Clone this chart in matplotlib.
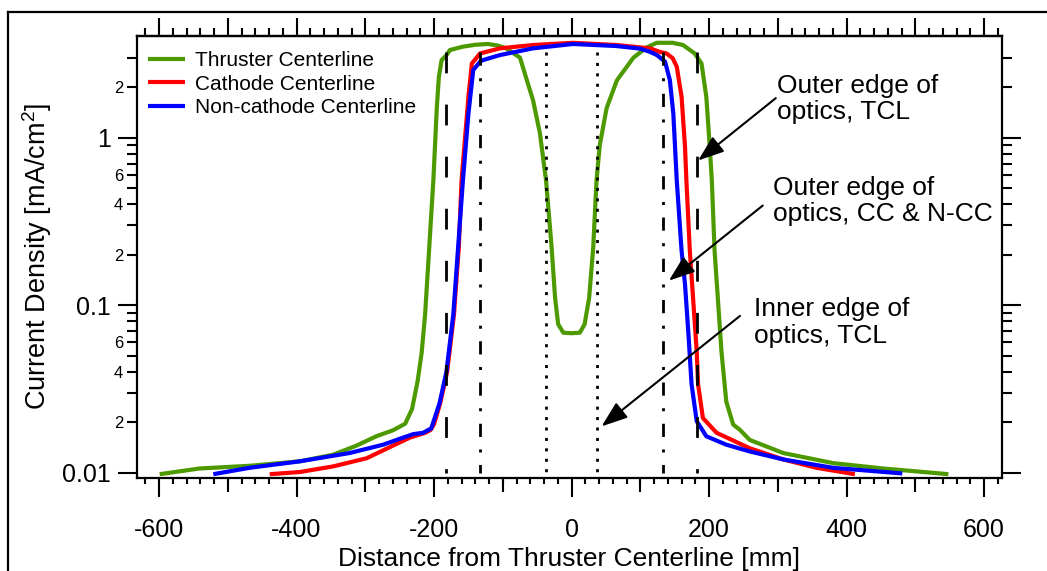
import matplotlib
matplotlib.use('Agg')
import matplotlib.pyplot as plt
from matplotlib.ticker import MultipleLocator, FixedLocator, FuncFormatter, NullLocator
from matplotlib.lines import Line2D

plt.rcParams['font.family'] = ['Liberation Sans', 'DejaVu Sans']
plt.rcParams['mathtext.fontset'] = 'custom'
plt.rcParams['mathtext.rm'] = 'Liberation Sans'
plt.rcParams['axes.unicode_minus'] = False
plt.rcParams['lines.scale_dashes'] = False

# ---- data ----
# distance [mm], current density [mA/cm^2]
tcl_x = [-599, -541, -468, -395, -347, -313, -284, -260, -242, -232, -224, -218, -213,
         -207, -201, -196, -193, -189, -182, -177, -158, -140, -122, -108, -95, -90,
         -75, -65, -56, -46, -37, -29, -24, -19.5, -12, 0, 12, 19, 25.6, 31.5, 36.3,
         41, 51, 66, 90, 109, 124, 147, 162, 179, 189, 196, 201, 204, 208, 213, 218,
         225, 235, 245, 259, 308, 381, 453, 548]
tcl_y = [0.0098, 0.0106, 0.0110, 0.0117, 0.0128, 0.0145, 0.0165, 0.0179, 0.0196, 0.0240,
         0.0350, 0.052, 0.088, 0.221, 0.555, 1.50, 2.3, 2.9, 3.1, 3.33, 3.49, 3.58, 3.62,
         3.55, 3.41, 3.3, 3.0, 2.2, 1.67, 1.06, 0.55, 0.221, 0.111, 0.077, 0.0685, 0.068,
         0.0685, 0.077, 0.111, 0.221, 0.555, 0.9, 1.5, 2.2, 3.0, 3.45, 3.68, 3.68, 3.57,
         3.18, 2.77, 1.75, 0.88, 0.555, 0.211, 0.106, 0.053, 0.0266, 0.0194, 0.0180,
         0.0157, 0.0131, 0.0114, 0.0106, 0.0098]

cc_x = [-439, -395, -347, -298, -260, -235, -213, -205, -200, -191, -181, -171, -164,
        -160, -150, -145, -133, -104, -56, 2, 65, 114, 128, 138, 147, 153, 160, 165,
        167, 172, 177, 182, 184, 191, 211, 259, 308, 356, 412]
cc_y = [0.0098, 0.0101, 0.0109, 0.0122, 0.0145, 0.0162, 0.0173, 0.0180, 0.0195, 0.026,
        0.040, 0.088, 0.221, 0.555, 1.75, 2.77, 3.18, 3.41, 3.57, 3.68, 3.57, 3.41,
        3.25, 3.18, 2.98, 2.65, 1.75, 0.88, 0.555, 0.211, 0.106, 0.053, 0.0338, 0.0212,
        0.0173, 0.0140, 0.0120, 0.0107, 0.0098]

ncc_x = [-521, -468, -395, -323, -274, -245, -230, -216, -204, -192, -182, -172, -165,
         -158, -150, -143, -133, -129, -104, -56, 2, 65, 99, 114, 124, 136, 143, 148,
         153, 160, 165, 170, 174.5, 182, 196, 225, 259, 308, 380, 481]
ncc_y = [0.0098, 0.0107, 0.0117, 0.0131, 0.0147, 0.0162, 0.0170, 0.0173, 0.0184, 0.026,
         0.040, 0.088, 0.221, 0.555, 1.39, 2.53, 2.84, 2.9, 3.11, 3.41, 3.62, 3.52, 3.4,
         3.25, 3.11, 2.84, 2.2, 1.39, 0.555, 0.211, 0.133, 0.067, 0.0338, 0.0203, 0.0165,
         0.0147, 0.0134, 0.0120, 0.0107, 0.0099]

series = [
    ('Thruster Centerline', tcl_x, tcl_y, '#4d9a00'),
    ('Cathode Centerline', cc_x, cc_y, '#ff0000'),
    ('Non-cathode Centerline', ncc_x, ncc_y, '#0000ff'),
]

# optics edges (vertical guide lines)
outer_tcl = [-182, 182]
outer_cc = [-133, 133]
inner_tcl = [-37, 37]
guide_span = [3.25, 0.01]

# text, (x, baseline of last line), arrow tail, arrow tip
notes = [
    ('Outer edge of\noptics, TCL', (299, 1.287), (297, 1.72), (184, 0.73)),
    ('Outer edge of\noptics, CC & N-CC', (293, 0.3167), (278, 0.393), (141.5, 0.14)),
    ('Inner edge of\noptics, TCL', (265, 0.0597), (245, 0.0863), (43.6, 0.0189)),
]

fig = plt.figure(figsize=(10.47, 5.71), dpi=100)
ax = fig.add_axes([137 / 1047, 1 - 478 / 571, 865 / 1047, 442 / 571])

for name, xs, ys, c in series:
    ax.plot(xs, ys, color=c, lw=3.0, label=name, solid_capstyle='butt', zorder=2)

for x in outer_tcl:
    ax.plot([x, x], guide_span, color='black', lw=2.0, dashes=(15, 22.5),
            dash_capstyle='butt', zorder=3)
for x in outer_cc:
    ax.plot([x, x], guide_span, color='black', lw=2.0, dashes=(9.5, 9, 2.2, 9),
            dash_capstyle='butt', zorder=3)
for x in inner_tcl:
    ax.plot([x, x], guide_span, color='black', lw=2.0, dashes=(2.2, 5.3),
            dash_capstyle='butt', zorder=3)

ax.set_yscale('log')
ax.set_xlim(-632, 626)
ax.set_ylim(0.0093, 4.04)

# y ticks
ax.set_yticks([0.01, 0.1, 1])
ax.set_yticklabels(['0.01', '0.1', '1'])
minor_y = [m * 10.0 ** e for e in (-2, -1) for m in range(2, 10)] + [2, 3]
ax.yaxis.set_minor_locator(FixedLocator(minor_y))


def minor_label(v, pos):
    d = v
    while d < 1:
        d *= 10
    d = round(d)
    return str(d) if d in (2, 4, 6) else ''


ax.yaxis.set_minor_formatter(FuncFormatter(minor_label))
ax.tick_params(axis='y', which='major', direction='out', length=14, width=1.5,
               labelsize=18, pad=5, left=True, right=True)
ax.tick_params(axis='y', which='minor', direction='out', length=7, width=1.5,
               labelsize=12, pad=3, left=True, right=True)

# x ticks (bottom)
ax.set_xticks(range(-600, 601, 200))
ax.xaxis.set_minor_locator(MultipleLocator(20))
ax.tick_params(axis='x', which='major', direction='out', length=13.7, width=1.5,
               labelsize=18, pad=15, top=False)
ax.tick_params(axis='x', which='minor', direction='out', length=4.5, width=1.5, top=False)

mid = ax.secondary_xaxis('bottom')
mid.set_xticks([-500, -300, -100, 100, 300, 500])
mid.xaxis.set_minor_locator(NullLocator())
mid.tick_params(axis='x', which='major', direction='out', length=10, width=1.5,
                labelbottom=False)
mid.spines['bottom'].set_visible(False)

top = ax.secondary_xaxis('top')
top.set_xticks(range(-600, 601, 100))
top.xaxis.set_minor_locator(MultipleLocator(20))
top.tick_params(axis='x', which='major', direction='out', length=13, width=1.5,
                labeltop=False)
top.tick_params(axis='x', which='minor', direction='out', length=5.8, width=1.5)
top.spines['top'].set_linewidth(1.6)

for s in ax.spines.values():
    s.set_linewidth(1.6)

ax.set_xlabel('Distance from Thruster Centerline [mm]', fontsize=19)
ax.xaxis.set_label_coords(0.5, -0.155)
ax.set_ylabel('Current Density [mA/cm$\\mathregular{^2}$]', fontsize=19.5)
ax.yaxis.set_label_coords(-0.096, 0.5)

ax.legend(loc='upper left', bbox_to_anchor=(0.0127, 0.965), frameon=False,
          fontsize=15, handlelength=1.78, handletextpad=0.48, labelspacing=0.2,
          borderpad=0, borderaxespad=0)

for text, tpos, tail, tip in notes:
    ax.text(tpos[0], tpos[1], text, fontsize=19, ha='left', va='baseline',
            linespacing=1.12)
    ax.annotate('', xy=tip, xytext=tail,
                arrowprops=dict(arrowstyle='-|>,head_length=1.6,head_width=0.58',
                                color='black', lw=1.5, shrinkA=0, shrinkB=0))

# outer frame of the original figure
fig.add_artist(Line2D([8.3 / 1047, 8.3 / 1047], [0, 1 - 11.7 / 571],
                      transform=fig.transFigure, color='black', lw=1.6))
fig.add_artist(Line2D([8.3 / 1047, 1], [1 - 11.7 / 571, 1 - 11.7 / 571],
                      transform=fig.transFigure, color='black', lw=1.6))

fig.savefig('out.png', dpi=100)
